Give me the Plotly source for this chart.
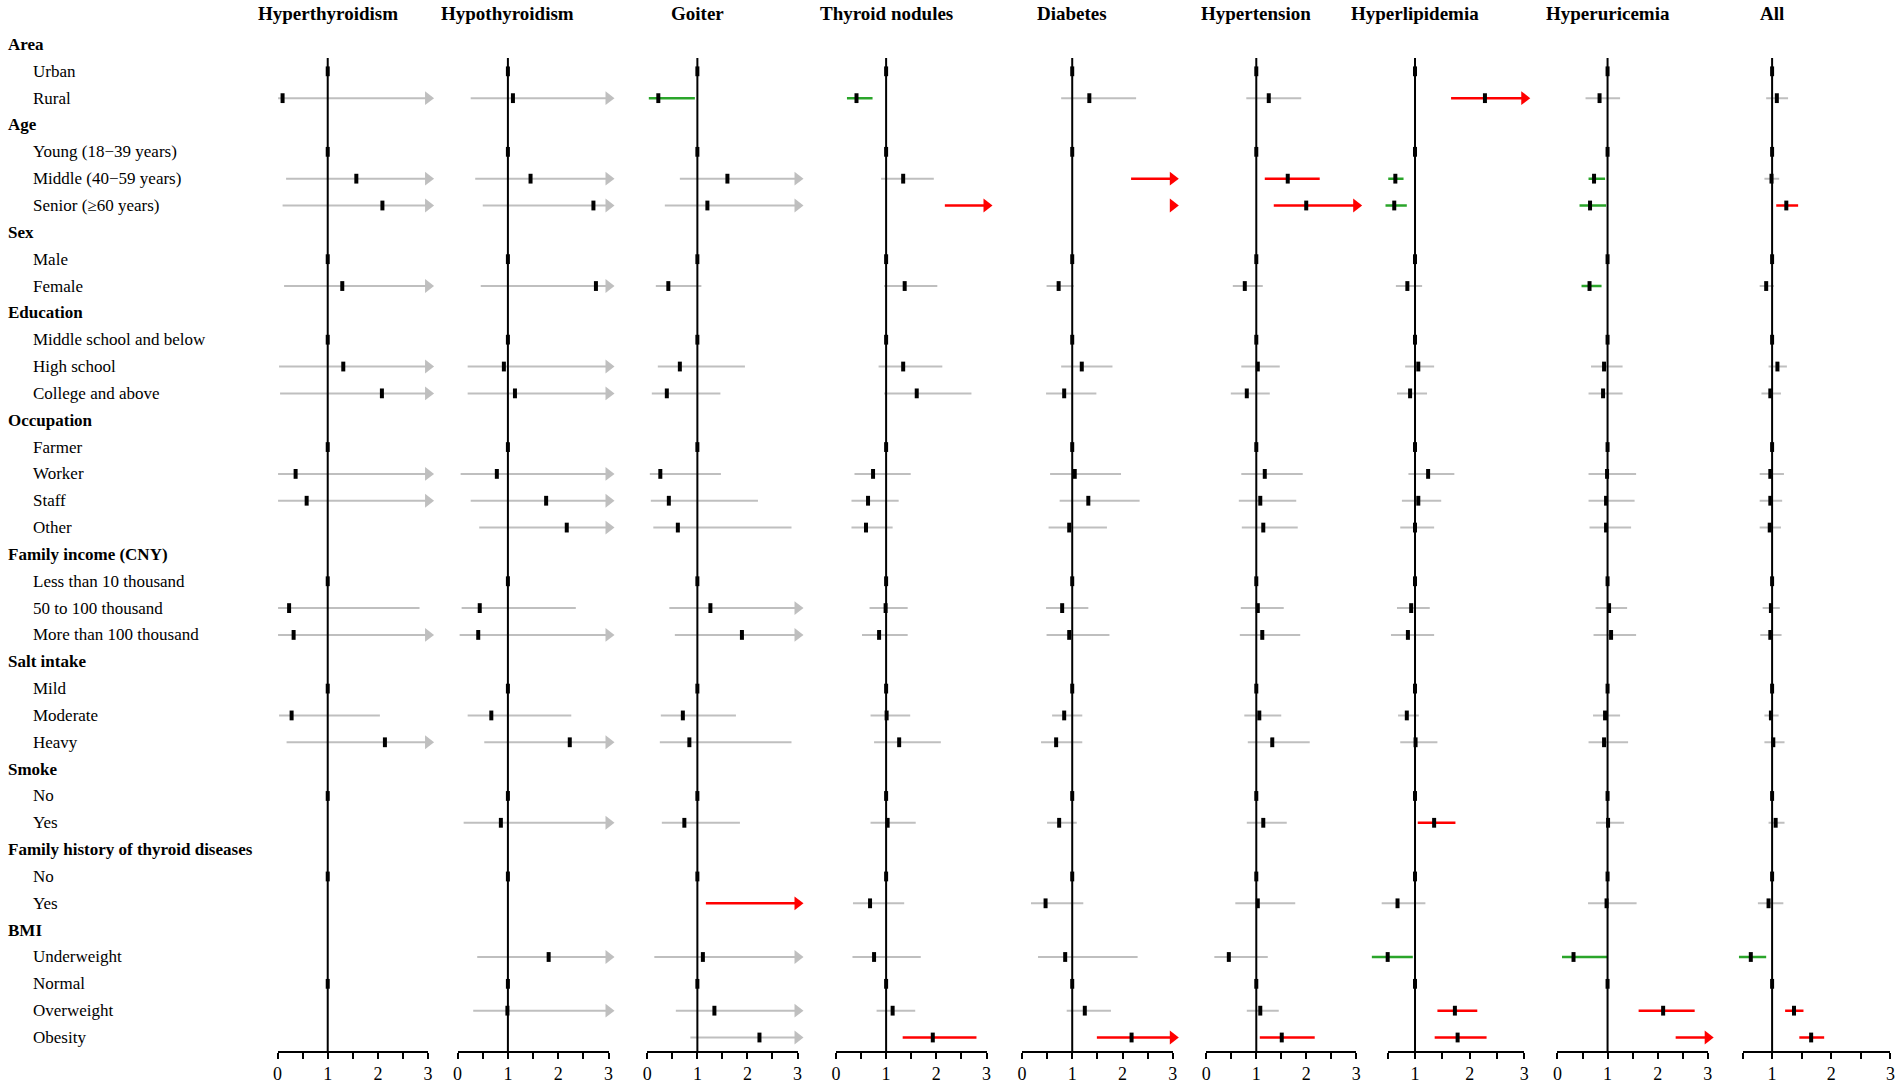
import plotly.graph_objects as go

N = None

# rows of the forest plot, top to bottom
labels = [
    "Area", "Urban", "Rural",
    "Age", "Young (18−39 years)", "Middle (40−59 years)", "Senior (≥60 years)",
    "Sex", "Male", "Female",
    "Education", "Middle school and below", "High school", "College and above",
    "Occupation", "Farmer", "Worker", "Staff", "Other",
    "Family income (CNY)", "Less than 10 thousand", "50 to 100 thousand", "More than 100 thousand",
    "Salt intake", "Mild", "Moderate", "Heavy",
    "Smoke", "No", "Yes",
    "Family history of thyroid diseases", "No", "Yes",
    "BMI", "Underweight", "Normal", "Overweight", "Obesity",
]
header_rows = [0, 3, 7, 10, 14, 19, 23, 27, 30, 33]

outcomes = ["Hyperthyroidism", "Hypothyroidism", "Goiter", "Thyroid nodules", "Diabetes",
            "Hypertension", "Hyperlipidemia", "Hyperuricemia", "All"]

# odds ratio / lower / upper 95% CI per row (None = header row or not estimated)
hyperthyroidism_or = [N, 1, 0.10, N, 1, 1.57, 2.09, N, 1, 1.29, N, 1, 1.31, 2.08,
                      N, 1, 0.36, 0.58, N, N, 1, 0.23, 0.32, N, 1, 0.28, 2.14,
                      N, 1, N, N, 1, N, N, N, 1, N, N]
hyperthyroidism_lo = [N, N, 0.01, N, N, 0.17, 0.10, N, N, 0.13, N, N, 0.03, 0.05,
                      N, N, 0.01, 0.01, N, N, N, 0.01, 0.01, N, N, 0.03, 0.18,
                      N, N, N, N, N, N, N, N, N, N, N]
hyperthyroidism_hi = [N, N, 5.2, N, N, 14.5, 43.0, N, N, 12.8, N, N, 18.0, 35.0,
                      N, N, 9.6, 12.0, N, N, N, 2.83, 3.6, N, N, 2.04, 27.0,
                      N, N, N, N, N, N, N, N, N, N, N]

hypothyroidism_or = [N, 1, 1.10, N, 1, 1.45, 2.70, N, 1, 2.75, N, 1, 0.92, 1.14,
                     N, 1, 0.78, 1.76, 2.17, N, 1, 0.44, 0.41, N, 1, 0.67, 2.23,
                     N, 1, 0.86, N, 1, N, N, 1.81, 1, 0.99, N]
hypothyroidism_lo = [N, N, 0.26, N, N, 0.35, 0.50, N, N, 0.46, N, N, 0.20, 0.20,
                     N, N, 0.06, 0.26, 0.43, N, N, 0.08, 0.04, N, N, 0.20, 0.53,
                     N, N, 0.12, N, N, N, N, 0.39, N, 0.31, N]
hypothyroidism_hi = [N, N, 4.6, N, N, 6.0, 14.6, N, N, 16.4, N, N, 4.8, 5.7,
                     N, N, 28.0, 12.9, 11.5, N, N, 2.35, 3.2, N, N, 2.26, 10.1,
                     N, N, 6.0, N, N, N, N, 9.0, N, 3.1, N]

goiter_or = [N, 1, 0.22, N, 1, 1.60, 1.20, N, 1, 0.42, N, 1, 0.65, 0.39,
             N, 1, 0.26, 0.43, 0.61, N, 1, 1.26, 1.89, N, 1, 0.71, 0.84,
             N, 1, 0.74, N, 1, 4.8, N, 1.11, 1, 1.34, 2.24]
goiter_lo = [N, N, 0.03, N, N, 0.65, 0.35, N, N, 0.17, N, N, 0.21, 0.09,
             N, N, 0.05, 0.07, 0.12, N, N, 0.44, 0.55, N, N, 0.27, 0.25,
             N, N, 0.29, N, N, 1.17, N, 0.14, N, 0.57, 0.86]
goiter_hi = [N, N, 0.95, N, N, 3.9, 4.1, N, N, 1.08, N, N, 1.95, 1.46,
             N, N, 1.47, 2.21, 2.88, N, N, 3.6, 6.3, N, N, 1.77, 2.88,
             N, N, 1.85, N, N, 19.0, N, 10.0, N, 3.4, 5.8]

nodules_or = [N, 1, 0.41, N, 1, 1.34, 4.2, N, 1, 1.37, N, 1, 1.34, 1.61,
              N, 1, 0.74, 0.64, 0.60, N, 1, 0.99, 0.86, N, 1, 1.01, 1.26,
              N, 1, 1.03, N, 1, 0.68, N, 0.76, 1, 1.13, 1.93]
nodules_lo = [N, N, 0.22, N, N, 0.90, 2.17, N, N, 0.96, N, N, 0.85, 0.96,
              N, N, 0.37, 0.31, 0.31, N, N, 0.67, 0.52, N, N, 0.69, 0.76,
              N, N, 0.69, N, N, 0.34, N, 0.33, N, 0.81, 1.33]
nodules_hi = [N, N, 0.73, N, N, 1.95, 8.1, N, N, 2.02, N, N, 2.12, 2.70,
              N, N, 1.49, 1.25, 1.13, N, N, 1.43, 1.43, N, N, 1.48, 2.09,
              N, N, 1.59, N, N, 1.36, N, 1.69, N, 1.58, 2.80]

diabetes_or = [N, 1, 1.34, N, 1, 4.3, 7.5, N, 1, 0.73, N, 1, 1.19, 0.84,
               N, 1, 1.05, 1.32, 0.94, N, 1, 0.80, 0.94, N, 1, 0.84, 0.68,
               N, 1, 0.74, N, 1, 0.47, N, 0.86, 1, 1.25, 2.18]
diabetes_lo = [N, N, 0.78, N, N, 2.17, 3.05, N, N, 0.49, N, N, 0.78, 0.48,
               N, N, 0.56, 0.75, 0.53, N, N, 0.48, 0.49, N, N, 0.60, 0.38,
               N, N, 0.50, N, N, 0.18, N, 0.32, N, 0.89, 1.49]
diabetes_hi = [N, N, 2.27, N, N, 8.5, 18.0, N, N, 1.03, N, N, 1.80, 1.48,
               N, N, 1.97, 2.34, 1.69, N, N, 1.32, 1.74, N, N, 1.20, 1.20,
               N, N, 1.09, N, N, 1.22, N, 2.30, N, 1.77, 3.2]

hypertension_or = [N, 1, 1.25, N, 1, 1.63, 2.00, N, 1, 0.77, N, 1, 1.03, 0.81,
                   N, 1, 1.17, 1.08, 1.14, N, 1, 1.03, 1.12, N, 1, 1.06, 1.32,
                   N, 1, 1.14, N, 1, 1.03, N, 0.45, 1, 1.08, 1.51]
hypertension_lo = [N, N, 0.80, N, N, 1.17, 1.35, N, N, 0.53, N, N, 0.70, 0.49,
                   N, N, 0.70, 0.65, 0.71, N, N, 0.69, 0.67, N, N, 0.76, 0.83,
                   N, N, 0.81, N, N, 0.58, N, 0.16, N, 0.81, 1.07]
hypertension_hi = [N, N, 1.90, N, N, 2.27, 3.3, N, N, 1.13, N, N, 1.47, 1.27,
                   N, N, 1.93, 1.80, 1.83, N, N, 1.55, 1.88, N, N, 1.50, 2.07,
                   N, N, 1.61, N, N, 1.78, N, 1.23, N, 1.45, 2.17]

hyperlipidemia_or = [N, 1, 2.28, N, 1, 0.64, 0.62, N, 1, 0.86, N, 1, 1.06, 0.91,
                     N, 1, 1.24, 1.06, 1.00, N, 1, 0.93, 0.87, N, 1, 0.85, 1.01,
                     N, 1, 1.35, N, 1, 0.68, N, 0.50, 1, 1.73, 1.78]
hyperlipidemia_lo = [N, N, 1.66, N, N, 0.51, 0.46, N, N, 0.65, N, N, 0.82, 0.67,
                     N, N, 0.88, 0.76, 0.73, N, N, 0.67, 0.56, N, N, 0.69, 0.73,
                     N, N, 1.05, N, N, 0.39, N, 0.21, N, 1.41, 1.36]
hyperlipidemia_hi = [N, N, 3.15, N, N, 0.79, 0.85, N, N, 1.13, N, N, 1.35, 1.22,
                     N, N, 1.72, 1.48, 1.35, N, N, 1.27, 1.35, N, N, 1.07, 1.41,
                     N, N, 1.74, N, N, 1.19, N, 0.96, N, 2.14, 2.31]

hyperuricemia_or = [N, 1, 0.84, N, 1, 0.73, 0.65, N, 1, 0.64, N, 1, 0.93, 0.91,
                    N, 1, 0.99, 0.97, 0.97, N, 1, 1.03, 1.07, N, 1, 0.95, 0.93,
                    N, 1, 1.01, N, 1, 0.98, N, 0.32, 1, 2.11, 3.3]
hyperuricemia_lo = [N, N, 0.56, N, N, 0.62, 0.44, N, N, 0.48, N, N, 0.67, 0.62,
                    N, N, 0.62, 0.62, 0.64, N, N, 0.76, 0.72, N, N, 0.71, 0.62,
                    N, N, 0.77, N, N, 0.61, N, 0.09, N, 1.62, 2.36]
hyperuricemia_hi = [N, N, 1.25, N, N, 0.95, 0.97, N, N, 0.88, N, N, 1.30, 1.30,
                    N, N, 1.57, 1.54, 1.47, N, N, 1.39, 1.57, N, N, 1.25, 1.41,
                    N, N, 1.33, N, N, 1.58, N, 0.99, N, 2.74, 4.6]

all_or = [N, 1, 1.08, N, 1, 0.99, 1.24, N, 1, 0.90, N, 1, 1.09, 0.97,
          N, 1, 0.97, 0.97, 0.96, N, 1, 0.98, 0.97, N, 1, 0.98, 1.02,
          N, 1, 1.06, N, 1, 0.94, N, 0.64, 1, 1.37, 1.66]
all_lo = [N, N, 0.90, N, N, 0.87, 1.07, N, N, 0.79, N, N, 0.94, 0.82,
          N, N, 0.79, 0.79, 0.79, N, N, 0.84, 0.80, N, N, 0.87, 0.87,
          N, N, 0.94, N, N, 0.76, N, 0.44, N, 1.22, 1.46]
all_hi = [N, N, 1.27, N, N, 1.12, 1.44, N, N, 1.03, N, N, 1.25, 1.15,
          N, N, 1.20, 1.17, 1.15, N, N, 1.13, 1.16, N, N, 1.11, 1.21,
          N, N, 1.21, N, N, 1.19, N, 0.90, N, 1.53, 1.88]

x_min = [0, 0, 0, 0, 0, 0, 0.5, 0, 0.5]
X_MAX = 3

panels = list(zip(
    outcomes,
    [hyperthyroidism_or, hypothyroidism_or, goiter_or, nodules_or, diabetes_or,
     hypertension_or, hyperlipidemia_or, hyperuricemia_or, all_or],
    [hyperthyroidism_lo, hypothyroidism_lo, goiter_lo, nodules_lo, diabetes_lo,
     hypertension_lo, hyperlipidemia_lo, hyperuricemia_lo, all_lo],
    [hyperthyroidism_hi, hypothyroidism_hi, goiter_hi, nodules_hi, diabetes_hi,
     hypertension_hi, hyperlipidemia_hi, hyperuricemia_hi, all_hi],
    x_min,
))

W, H = 1902, 1084
FONT = "Times New Roman, Liberation Serif, serif"
GREY, GREEN, RED = "#bfbfbf", "#2aa52a", "#ff0000"

# pixel extent of each panel's x axis
panel_px = [(274, 425.3), (455, 606.7), (645.7, 796.7), (835.3, 986.7), (1022.3, 1174),
            (1207.7, 1358.3), (1390, 1527.3), (1560.7, 1711.7), (1746.7, 1895.4)]
PAD = 24  # px of room left of each axis so CI lines may run past its start
y_domain = [1 - 1055.8 / H, 1 - 31.2 / H]
n_rows = len(labels)

fig = go.Figure()
annotations = []
layout_axes = {}

for k, (name, est, lo, hi, xmin) in enumerate(panels):
    xa = "x" if k == 0 else f"x{k + 1}"   # visible axis with ticks
    xd = f"x{k + 11}"                      # hidden twin, same scale, a bit wider on the left
    x0, x1 = panel_px[k]
    unit = (x1 - x0) / (X_MAX - xmin)

    segs = {GREY: ([], []), GREEN: ([], []), RED: ([], [])}
    heads = {GREY: ([], []), GREEN: ([], []), RED: ([], [])}
    for i in range(n_rows):
        if lo[i] is None:
            continue
        color = RED if lo[i] > 1 else GREEN if hi[i] < 1 else GREY
        segs[color][0].extend([min(lo[i], X_MAX), min(hi[i], X_MAX), None])
        segs[color][1].extend([i, i, None])
        if hi[i] > X_MAX:
            heads[color][0].append(X_MAX)
            heads[color][1].append(i)

    for color, (xs, ys) in segs.items():
        if xs:
            fig.add_trace(go.Scatter(x=xs, y=ys, mode="lines",
                                     line=dict(color=color, width=2 if color == GREY else 2.5),
                                     cliponaxis=False, hoverinfo="skip", xaxis=xd, yaxis="y"))
    for color, (xs, ys) in heads.items():
        if xs:
            fig.add_trace(go.Scatter(x=xs, y=ys, mode="markers", cliponaxis=False, hoverinfo="skip",
                                     marker=dict(symbol="triangle-right", size=12, color=color, line_width=0),
                                     xaxis=xd, yaxis="y"))

    # reference line at OR = 1
    fig.add_trace(go.Scatter(x=[1, 1], y=[0.5, n_rows - 0.5], mode="lines",
                             line=dict(color="black", width=2), hoverinfo="skip", xaxis=xd, yaxis="y"))

    px, py = [], []
    for i in range(n_rows):
        if est[i] is not None and est[i] <= X_MAX:
            px.append(est[i])
            py.append(i)
    fig.add_trace(go.Scatter(x=px, y=py, mode="markers", cliponaxis=False,
                             marker=dict(symbol="line-ns", size=7, line=dict(color="black", width=4)),
                             xaxis=xd, yaxis="y"))

    ticks = [v / 2 for v in range(int(xmin * 2), X_MAX * 2 + 1)]
    layout_axes["xaxis" if k == 0 else f"xaxis{k + 1}"] = dict(
        domain=[x0 / W, x1 / W], anchor="y", range=[xmin, X_MAX],
        tickvals=ticks, ticktext=[str(int(v)) if v == int(v) else "" for v in ticks],
        ticks="outside", ticklen=6, tickwidth=1.5, tickcolor="black",
        showline=True, linecolor="black", linewidth=1.5, showgrid=False, zeroline=False,
        tickfont=dict(family=FONT, size=18, color="black"), fixedrange=True,
    )
    layout_axes[f"xaxis{k + 11}"] = dict(
        domain=[(x0 - PAD) / W, x1 / W], anchor="y", range=[xmin - PAD / unit, X_MAX],
        visible=False, fixedrange=True,
    )
    annotations.append(dict(text=f"<b>{name}</b>", xref=xa, x=1, yref="paper", y=1 - 13.5 / H,
                            showarrow=False, xanchor="center", yanchor="middle",
                            font=dict(family=FONT, size=19, color="black")))

for i, lab in enumerate(labels):
    head = i in header_rows
    annotations.append(dict(text=f"<b>{lab}</b>" if head else lab, xref="paper", yref="y",
                            x=(1 if head else 26) / W, y=i, xanchor="left", yanchor="middle",
                            showarrow=False, font=dict(family=FONT, size=17, color="black")))

fig.update_layout(
    width=W, height=H,
    margin=dict(l=0, r=0, t=0, b=0),
    paper_bgcolor="white", plot_bgcolor="rgba(0,0,0,0)",
    showlegend=False,
    yaxis=dict(domain=y_domain, range=[n_rows - 0.5, -0.5], visible=False, anchor="x", fixedrange=True),
    annotations=annotations,
    **layout_axes,
)

# drop the browser's default body margin so the figure sits at the page origin
fig.write_html("out.html", config={"displayModeBar": False},
               post_script="document.body.style.margin='0';")
